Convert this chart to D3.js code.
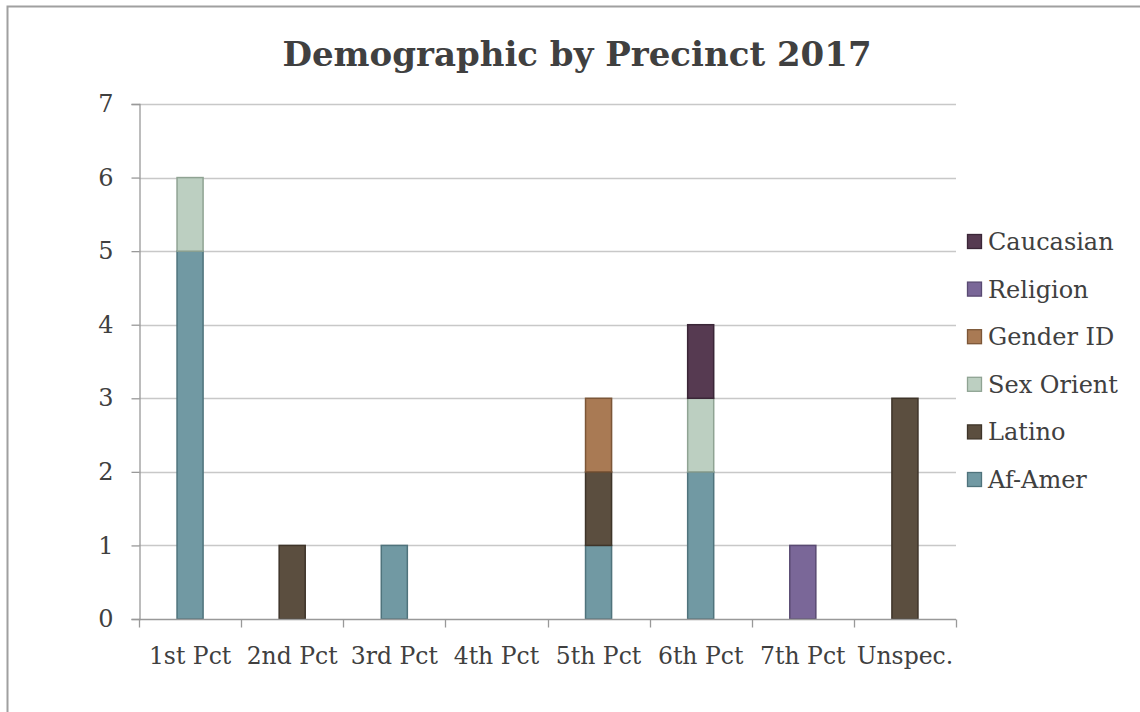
<!DOCTYPE html>
<html>
<head>
<meta charset="utf-8">
<script src="https://cdn.jsdelivr.net/npm/d3@7"></script>
<style>
  html, body { margin: 0; padding: 0; background: #fff; }
  svg { display: block; }
  text { font-family: "DejaVu Serif", "Liberation Serif", serif; fill: #404040; }
</style>
</head>
<body>
<svg id="chart" width="1140" height="712"></svg>
<script>
// Precinct categories along the x axis
const categories = ["1st Pct", "2nd Pct", "3rd Pct", "4th Pct", "5th Pct", "6th Pct", "7th Pct", "Unspec."];

// Counts per demographic series, one entry per precinct
const afAmer     = [5, 0, 1, 0, 1, 2, 0, 0];
const latino     = [0, 1, 0, 0, 1, 0, 0, 3];
const sexOrient  = [1, 0, 0, 0, 0, 1, 0, 0];
const genderId   = [0, 0, 0, 0, 1, 0, 0, 0];
const religion   = [0, 0, 0, 0, 0, 0, 1, 0];
const caucasian  = [0, 0, 0, 0, 0, 1, 0, 0];

const seriesNames = ["Af-Amer", "Latino", "Sex Orient", "Gender ID", "Religion", "Caucasian"];
const seriesValues = [afAmer, latino, sexOrient, genderId, religion, caucasian];
const yTicks = [0, 1, 2, 3, 4, 5, 6, 7];

const fills   = ["#7199a3", "#5b4e3f", "#bccfc1", "#a97a54", "#7a6798", "#563a51"];
const strokes = ["#4f737c", "#3e3429", "#8fa393", "#7c5637", "#594a72", "#3a2637"];

const svg = d3.select("#chart");

// Outer frame
svg.append("rect")
  .attr("x", 7.5).attr("y", 6.5)
  .attr("width", 1200).attr("height", 800)
  .attr("fill", "none").attr("stroke", "#a0a0a0").attr("stroke-width", 2);

const plotLeft = 139, plotRight = 956, plotTop = 104, plotBottom = 619;

const x = d3.scaleBand().domain(categories).range([plotLeft, plotRight]).paddingInner(0).paddingOuter(0);
const y = d3.scaleLinear().domain([0, 7]).range([plotBottom, plotTop]);

// Build stacked table
const table = categories.map((c, i) => {
  const row = { cat: c };
  seriesNames.forEach((s, k) => { row[s] = seriesValues[k][i]; });
  return row;
});
const stacked = d3.stack().keys(seriesNames)(table);

// Horizontal gridlines
svg.append("g").selectAll("line")
  .data(yTicks.filter(t => t > 0))
  .join("line")
  .attr("x1", plotLeft).attr("x2", plotRight)
  .attr("y1", d => Math.round(y(d)) + 0.5).attr("y2", d => Math.round(y(d)) + 0.5)
  .attr("stroke", "#c8c8c8").attr("stroke-width", 1.3);

// Y axis
const yAxis = svg.append("g")
  .attr("transform", `translate(${plotLeft + 0.5},0)`)
  .call(d3.axisLeft(y).tickValues(yTicks).tickSize(8).tickPadding(18).tickFormat(d3.format("d")));
yAxis.select(".domain").attr("stroke", "#999").attr("stroke-width", 1.3);
yAxis.selectAll(".tick line").attr("stroke", "#999").attr("stroke-width", 1.3);
yAxis.selectAll(".tick text").attr("font-size", 24).attr("fill", "#404040")
  .attr("font-family", "DejaVu Serif, serif");

// Bars
const barW = x.bandwidth() * 0.255;
svg.append("g").selectAll("g")
  .data(stacked)
  .join("g")
  .attr("fill", (d, i) => fills[i])
  .attr("stroke", (d, i) => strokes[i])
  .selectAll("rect")
  .data(d => d.filter(p => p[1] - p[0] > 0))
  .join("rect")
  .attr("x", p => x(p.data.cat) + x.bandwidth() / 2 - barW / 2)
  .attr("width", barW)
  .attr("y", p => y(p[1]))
  .attr("height", p => y(p[0]) - y(p[1]))
  .attr("stroke-width", 1.5);

// X axis with tick marks on category boundaries
const xAxisG = svg.append("g").attr("transform", `translate(0,${plotBottom + 0.5})`);
xAxisG.append("line")
  .attr("x1", plotLeft).attr("x2", plotRight)
  .attr("stroke", "#999").attr("stroke-width", 1.3);
const boundaries = categories.map(c => x(c)).concat([plotRight]);
xAxisG.selectAll("line.tk")
  .data(boundaries)
  .join("line").attr("class", "tk")
  .attr("x1", d => Math.round(d) + 0.5).attr("x2", d => Math.round(d) + 0.5)
  .attr("y1", 0).attr("y2", 8)
  .attr("stroke", "#999").attr("stroke-width", 1.3);
xAxisG.selectAll("text")
  .data(categories)
  .join("text")
  .attr("x", d => x(d) + x.bandwidth() / 2)
  .attr("y", 44)
  .attr("text-anchor", "middle")
  .attr("font-size", 23.5)
  .text(d => d);

// Title
svg.append("text")
  .attr("x", 577).attr("y", 66)
  .attr("text-anchor", "middle")
  .attr("font-size", 34).attr("font-weight", "bold")
  .text("Demographic by Precinct 2017");

// Legend (top entry is the last stacked series)
const legendOrder = seriesNames.map((s, i) => i).reverse();
const legend = svg.append("g").selectAll("g")
  .data(legendOrder)
  .join("g")
  .attr("transform", (d, j) => `translate(967,${241 + j * 47.6})`);
legend.append("rect")
  .attr("x", 0.5).attr("y", -6.5).attr("width", 14).attr("height", 14)
  .attr("fill", d => fills[d]).attr("stroke", d => strokes[d]).attr("stroke-width", 1.3);
legend.append("text")
  .attr("x", 21).attr("y", 9)
  .attr("font-size", 24)
  .text(d => seriesNames[d]);
</script>
</body>
</html>
